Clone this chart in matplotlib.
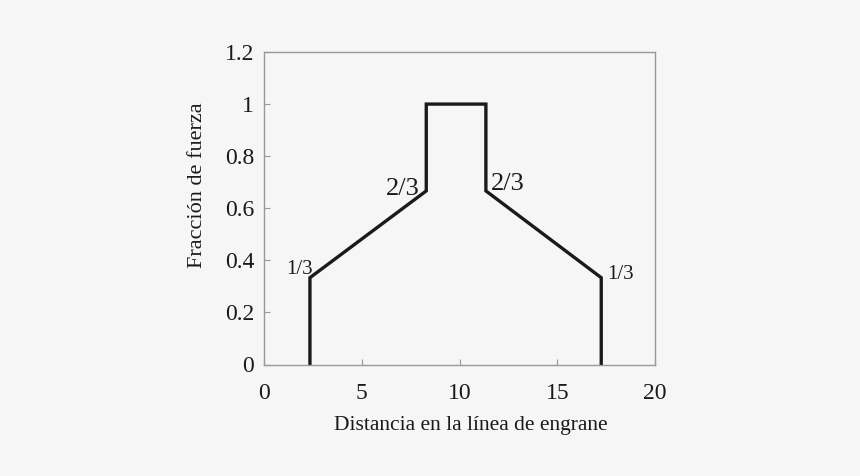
import matplotlib.pyplot as plt

plt.rcParams['font.family'] = ['Liberation Serif', 'DejaVu Serif']

# force fraction vs distance along line of action
distancia = [2.35, 2.35, 8.3, 8.3, 11.35, 11.35, 17.25, 17.25]
fraccion = [0, 1/3, 2/3, 1, 1, 2/3, 1/3, 0]

etiquetas = ['1/3', '2/3', '2/3', '1/3']
etiq_x = [2.35, 8.3, 11.35, 17.25]
etiq_y = [1/3, 2/3, 2/3, 1/3]
etiq_ha = ['right', 'right', 'left', 'left']
etiq_off = [(2, 3), (-4.5, -3), (3.5, 0.5), (4.5, -1)]
etiq_fs = [15, 19, 19, 15]

bg = '#f6f6f6'
fig = plt.figure(figsize=(8.6, 4.76), dpi=100, facecolor=bg)
ax = fig.add_axes([264/860, 1 - 364.5/476, (655 - 264)/860, (364.5 - 52)/476])
ax.set_facecolor(bg)

ax.plot(distancia, fraccion, color='#1a1a1a', lw=2.4, solid_joinstyle='miter')

for t, x, y, ha, off, fs in zip(etiquetas, etiq_x, etiq_y, etiq_ha, etiq_off, etiq_fs):
    ax.annotate(t, (x, y), xytext=off, textcoords='offset points',
                ha=ha, va='baseline', fontsize=fs, color='#1a1a1a')

ax.set_xlim(0, 20)
ax.set_ylim(0, 1.2)
ax.set_xticks([0, 5, 10, 15, 20])
ax.set_xticklabels(['0', '5', '10', '15', '20'])
ax.set_yticks([0, 0.2, 0.4, 0.6, 0.8, 1, 1.2])
ax.set_yticklabels(['0', '0.2', '0.4', '0.6', '0.8', '1', '1.2'])
ax.tick_params(direction='in', length=4, color='#999999', labelsize=17, labelcolor='#1a1a1a')
ax.tick_params(axis='x', pad=13)
ax.tick_params(axis='y', pad=7)
for s in ax.spines.values():
    s.set_color('#999999')
    s.set_linewidth(1)

ax.set_xlabel('Distancia en la línea de engrane', fontsize=15.5, color='#1a1a1a')
ax.set_ylabel('Fracción de fuerza', fontsize=16, color='#1a1a1a')
ax.xaxis.set_label_coords(0.528, -0.165)
ax.yaxis.set_label_coords(-0.147, 0.573)

fig.savefig('out.png', dpi=100, facecolor=bg)
